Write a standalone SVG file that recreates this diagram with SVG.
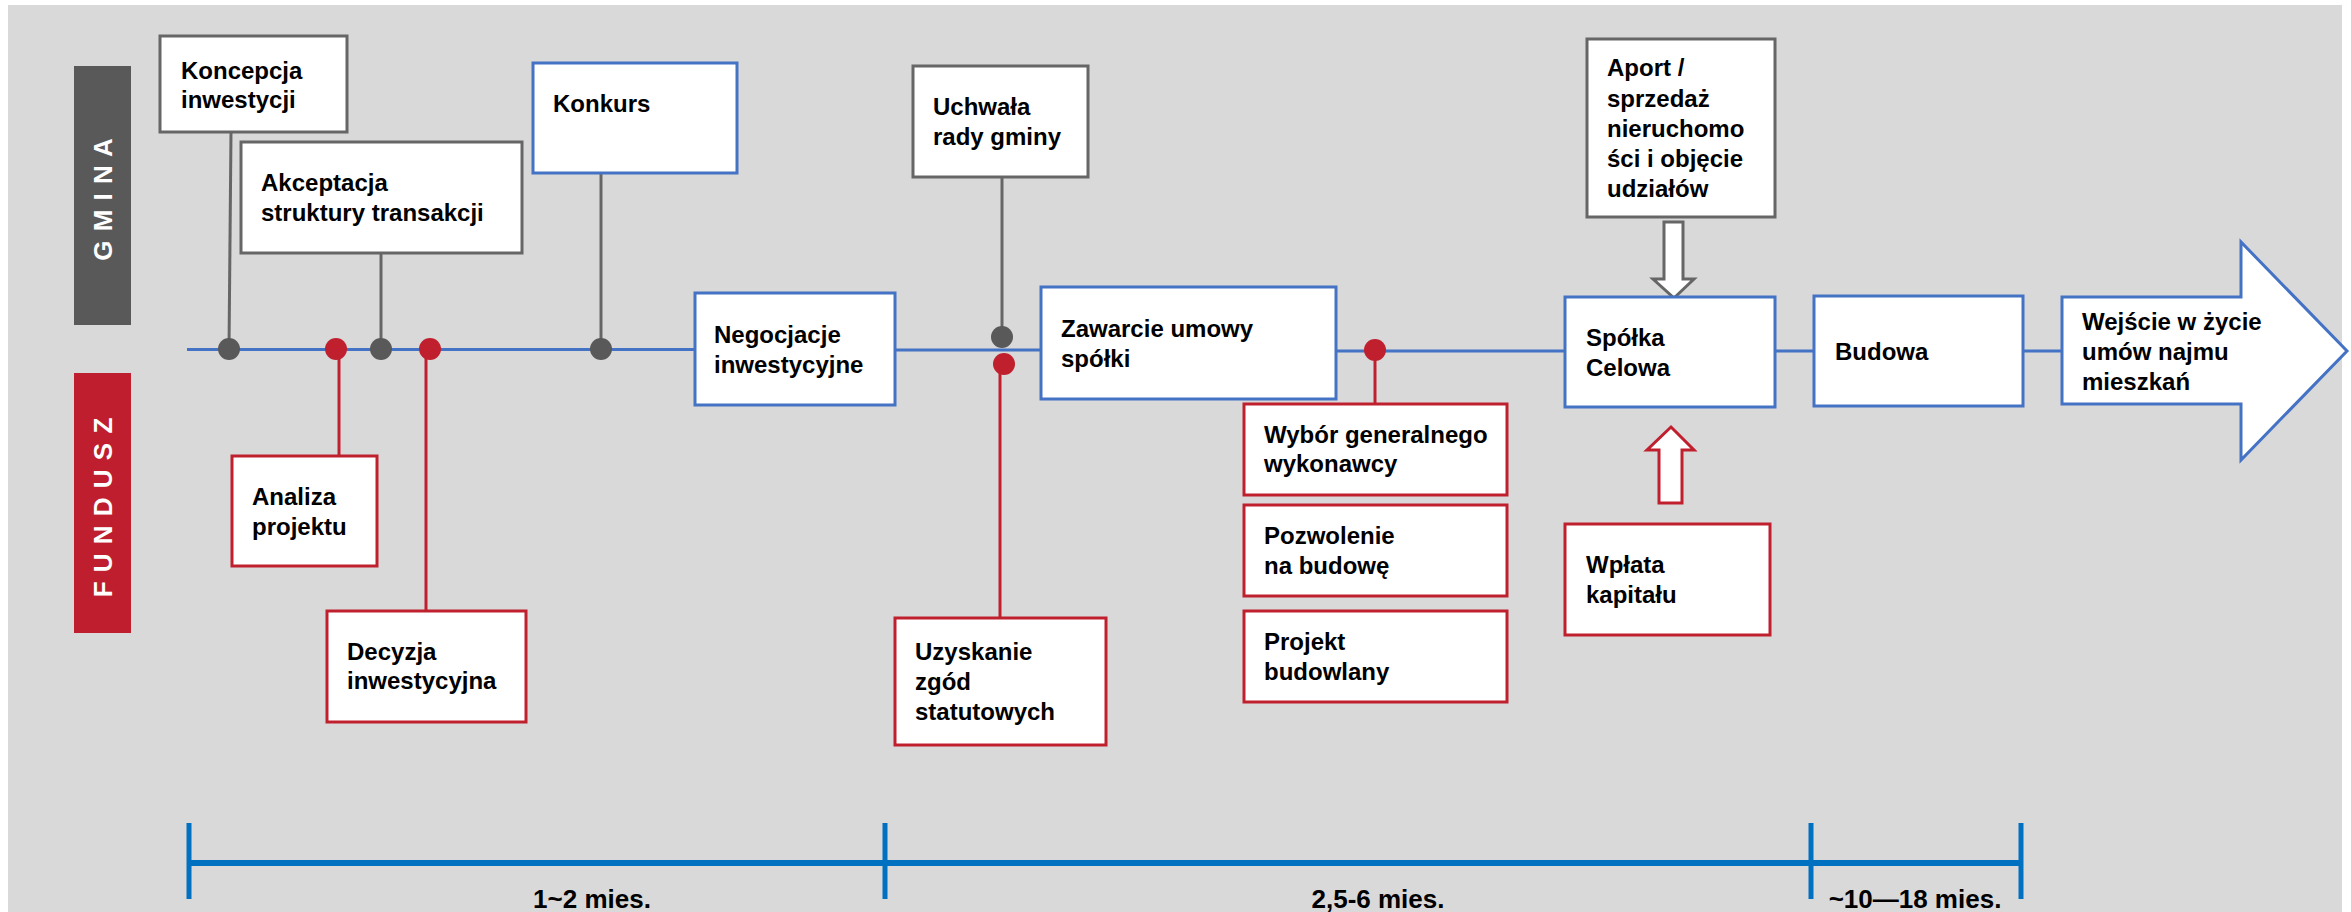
<svg xmlns="http://www.w3.org/2000/svg" width="2351" height="912" viewBox="0 0 2351 912">
<style>
.t{font-family:"Liberation Sans",Arial,sans-serif;font-weight:bold;font-size:24px;fill:#000}
.tl{font-family:"Liberation Sans",Arial,sans-serif;font-weight:bold;font-size:26px;fill:#000;text-anchor:middle}
.side{font-family:"Liberation Sans",Arial,sans-serif;font-weight:bold;font-size:26px;fill:#fff;text-anchor:middle;letter-spacing:1px}
.bg{fill:#fff;stroke:#666;stroke-width:3}
.bb{fill:#fff;stroke:#4472C4;stroke-width:3}
.br{fill:#fff;stroke:#C0202E;stroke-width:3}
.lg{stroke:#666;stroke-width:3;fill:none}
.lr{stroke:#C0202E;stroke-width:3;fill:none}
.lb{stroke:#4472C4;stroke-width:3;fill:none}
.dg{fill:#595959}
.dr{fill:#C0202E}
.tm{stroke:#0070C0;stroke-width:6;fill:none}
.tk{stroke:#0070C0;stroke-width:5;fill:none}
</style>
<rect x="8" y="5" width="2334" height="907" fill="#D9D9D9"/>

<g id="lane-gmina">
<rect x="74" y="66" width="57" height="259" fill="#595959"/>
<text class="side" transform="translate(112,199) rotate(-90)">G M I N A</text>
</g>
<g id="lane-fundusz">
<rect x="74" y="373" width="57" height="260" fill="#BE1E2D"/>
<text class="side" transform="translate(112,507) rotate(-90)">F U N D U S Z</text>
</g>

<g id="connectors">
<line class="lb" x1="187" y1="349.5" x2="695" y2="349.5"/>
<line class="lb" x1="895" y1="350" x2="1041" y2="350"/>
<line class="lb" x1="1336" y1="351" x2="1565" y2="351"/>
<line class="lb" x1="1775" y1="351" x2="1814" y2="351"/>
<line class="lb" x1="2023" y1="351" x2="2062" y2="351"/>
<line class="lg" x1="231" y1="132" x2="229" y2="349"/>
<line class="lg" x1="381" y1="253" x2="381" y2="349"/>
<line class="lg" x1="601" y1="173" x2="601" y2="349"/>
<line class="lg" x1="1002" y1="177" x2="1002" y2="337"/>
<line class="lr" x1="339" y1="349" x2="339" y2="456"/>
<line class="lr" x1="426" y1="349" x2="426" y2="611"/>
<line class="lr" x1="1000" y1="364" x2="1000" y2="618"/>
<line class="lr" x1="1375" y1="350" x2="1375" y2="404"/>
<circle class="dg" cx="229" cy="349" r="11"/>
<circle class="dr" cx="336" cy="349" r="11"/>
<circle class="dg" cx="381" cy="349" r="11"/>
<circle class="dr" cx="430" cy="349" r="11"/>
<circle class="dg" cx="601" cy="349" r="11"/>
<circle class="dg" cx="1002" cy="337" r="11"/>
<circle class="dr" cx="1004" cy="364" r="11"/>
<circle class="dr" cx="1375" cy="350" r="11"/>
<polygon points="1664,222 1683,222 1683,279 1694,279 1674,298 1653,279 1664,279" fill="#fff" stroke="#666" stroke-width="3"/>
<polygon points="1671,427 1694,450 1682,450 1682,503 1659,503 1659,450 1647,450" fill="#fff" stroke="#C0202E" stroke-width="3"/>
</g>

<g id="koncepcja"><rect class="bg" x="160" y="36" width="187" height="96"/><text class="t" x="181" y="79">Koncepcja</text><text class="t" x="181" y="108">inwestycji</text></g>
<g id="akceptacja"><rect class="bg" x="241" y="142" width="281" height="111"/><text class="t" x="261" y="191">Akceptacja</text><text class="t" x="261" y="221">struktury transakcji</text></g>
<g id="konkurs"><rect class="bb" x="533" y="63" width="204" height="110"/><text class="t" x="553" y="112">Konkurs</text></g>
<g id="analiza"><rect class="br" x="232" y="456" width="145" height="110"/><text class="t" x="252" y="505">Analiza</text><text class="t" x="252" y="535">projektu</text></g>
<g id="decyzja"><rect class="br" x="327" y="611" width="199" height="111"/><text class="t" x="347" y="660">Decyzja</text><text class="t" x="347" y="689">inwestycyjna</text></g>
<g id="negocjacje"><rect class="bb" x="695" y="293" width="200" height="112"/><text class="t" x="714" y="343">Negocjacje</text><text class="t" x="714" y="373">inwestycyjne</text></g>
<g id="uchwala"><rect class="bg" x="913" y="66" width="175" height="111"/><text class="t" x="933" y="115">Uchwała</text><text class="t" x="933" y="145">rady gminy</text></g>
<g id="uzyskanie"><rect class="br" x="895" y="618" width="211" height="127"/><text class="t" x="915" y="660">Uzyskanie</text><text class="t" x="915" y="690">zgód</text><text class="t" x="915" y="720">statutowych</text></g>
<g id="zawarcie"><rect class="bb" x="1041" y="287" width="295" height="112"/><text class="t" x="1061" y="337">Zawarcie umowy</text><text class="t" x="1061" y="367">spółki</text></g>
<g id="wybor"><rect class="br" x="1244" y="404" width="263" height="91"/><text class="t" x="1264" y="443">Wybór generalnego</text><text class="t" x="1264" y="472">wykonawcy</text></g>
<g id="pozwolenie"><rect class="br" x="1244" y="505" width="263" height="91"/><text class="t" x="1264" y="544">Pozwolenie</text><text class="t" x="1264" y="574">na budowę</text></g>
<g id="projekt"><rect class="br" x="1244" y="611" width="263" height="91"/><text class="t" x="1264" y="650">Projekt</text><text class="t" x="1264" y="680">budowlany</text></g>
<g id="aport"><rect class="bg" x="1587" y="39" width="188" height="178"/><text class="t" x="1607" y="76">Aport /</text><text class="t" x="1607" y="107">sprzedaż</text><text class="t" x="1607" y="137">nieruchomo</text><text class="t" x="1607" y="167">ści i objęcie</text><text class="t" x="1607" y="197">udziałów</text></g>
<g id="spolka"><rect class="bb" x="1565" y="297" width="210" height="110"/><text class="t" x="1586" y="346">Spółka</text><text class="t" x="1586" y="376">Celowa</text></g>
<g id="wplata"><rect class="br" x="1565" y="524" width="205" height="111"/><text class="t" x="1586" y="573">Wpłata</text><text class="t" x="1586" y="603">kapitału</text></g>
<g id="budowa"><rect class="bb" x="1814" y="296" width="209" height="110"/><text class="t" x="1835" y="360">Budowa</text></g>
<g id="wejscie"><polygon points="2062,297 2241,297 2241,242 2347,351 2241,460 2241,404 2062,404" fill="#fff" stroke="#4472C4" stroke-width="3"/><text class="t" x="2082" y="330">Wejście w życie</text><text class="t" x="2082" y="360">umów najmu</text><text class="t" x="2082" y="390">mieszkań</text></g>

<g id="timeline">
<line class="tm" x1="189" y1="863" x2="2021" y2="863"/>
<line class="tk" x1="189" y1="823" x2="189" y2="899"/>
<line class="tk" x1="885" y1="823" x2="885" y2="899"/>
<line class="tk" x1="1811" y1="823" x2="1811" y2="899"/>
<line class="tk" x1="2021" y1="823" x2="2021" y2="899"/>
<text class="tl" x="592" y="908">1~2 mies.</text>
<text class="tl" x="1378" y="908">2,5-6 mies.</text>
<text class="tl" x="1915" y="908">~10—18 mies.</text>
</g>
</svg>
